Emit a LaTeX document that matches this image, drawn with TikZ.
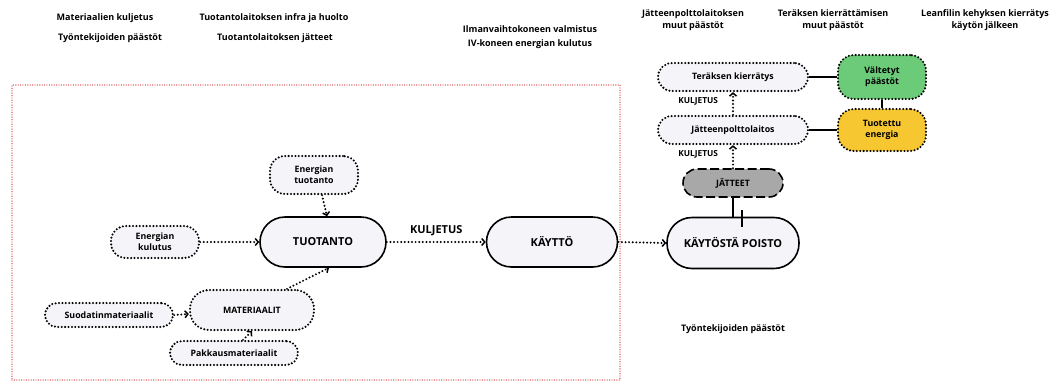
\documentclass[tikz,border=0pt]{standalone}
\usepackage{fontspec}
\setmainfont{Open Sans}
\usetikzlibrary{arrows.meta,calc}
\definecolor{nodefill}{HTML}{F5F4F9}
\definecolor{greenfill}{HTML}{6CCB78}
\definecolor{yellowfill}{HTML}{F6C730}
\definecolor{grayfill}{HTML}{A8A8A8}
\definecolor{redline}{HTML}{D9474A}
\tikzset{
  mainbox/.style={draw, line width=1.6pt, fill=nodefill, rounded corners=25pt,
    minimum width=128pt, minimum height=50pt, inner sep=0pt,
    font=\bfseries\fontsize{11}{12}\selectfont},
  dotbox/.style={draw, line width=2.3pt, dash pattern=on 0pt off 3.4pt, line cap=round,
    fill=nodefill, inner sep=0pt, align=center,
    font=\bfseries\fontsize{8.8}{11}\selectfont},
  conn/.style={line width=2.2pt, dash pattern=on 0pt off 3.6pt, line cap=round,
    -{Straight Barb[length=3pt,width=7pt,line width=1.5pt]}},
  solidconn/.style={line width=1.6pt},
  toplabel/.style={font=\bfseries\fontsize{9}{12.5}\selectfont, align=center, inner sep=0pt},
  lbl/.style={font=\bfseries\fontsize{8.3}{10}\selectfont, inner sep=0pt}
}
\begin{document}
\begin{tikzpicture}[x=1pt,y=-1pt]
\useasboundingbox (0,0) rectangle (1056,383);
% red frame
\node[draw=redline, line width=1.4pt, dash pattern=on 0pt off 2.4pt, line cap=round,
  minimum width=608pt, minimum height=295pt, inner sep=0pt] (frame) at (316,232.5) {};

% top labels
\node[toplabel] (t1) at (105,18) {Materiaalien kuljetus};
\node[toplabel] (t2) at (110,38) {Työntekijoiden päästöt};
\node[toplabel] (t3) at (274,18) {Tuotantolaitoksen infra ja huolto};
\node[toplabel] (t4) at (275,38) {Tuotantolaitoksen jätteet};
\node[toplabel] (t5) at (530,29) {Ilmanvaihtokoneen valmistus};
\node[toplabel] (t6) at (530,44) {IV-koneen energian kulutus};
\node[toplabel] (t7) at (693,20) {Jätteenpolttolaitoksen\\muut päästöt};
\node[toplabel] (t8) at (833,20) {Teräksen kierrättämisen\\muut päästöt};
\node[toplabel] (t9) at (985,20) {Leanfilin kehyksen kierrätys\\käytön jälkeen};
\node[toplabel] (t10) at (733,329) {Työntekijoiden päästöt};

% main nodes
\node[mainbox, minimum width=126pt] (tuot) at (323,242) {TUOTANTO};
\node[mainbox, minimum width=131pt] (kaytto) at (552,242) {KÄYTTÖ};
\node[mainbox, minimum width=132pt, minimum height=51pt] (poisto) at (733,243) {KÄYTÖSTÄ POISTO};

% dotted nodes
\node[dotbox, minimum width=88pt, minimum height=38pt, rounded corners=15pt] (entuot) at (314,175) {Energian\\tuotanto};
\node[dotbox, minimum width=88pt, minimum height=32pt, rounded corners=15pt] (enkul) at (155,242) {Energian\\kulutus};
\node[dotbox, minimum width=124pt, minimum height=40pt, rounded corners=19pt] (mat) at (252,310) {MATERIAALIT};
\node[dotbox, minimum width=128pt, minimum height=24pt, rounded corners=12pt] (suod) at (109,315) {Suodatinmateriaalit};
\node[dotbox, minimum width=128pt, minimum height=24pt, rounded corners=12pt] (pakk) at (234,353) {Pakkausmateriaalit};

% right side
\node[draw, line width=1.6pt, dash pattern=on 9pt off 3.5pt, fill=grayfill, rounded corners=14pt,
  minimum width=100pt, minimum height=28pt, inner sep=0pt,
  font=\bfseries\fontsize{8.8}{10}\selectfont] (jatteet) at (733,183) {JÄTTEET};
\node[dotbox, minimum width=150pt, minimum height=28pt, rounded corners=14pt] (jpl) at (733,130) {Jätteenpolttolaitos};
\node[dotbox, minimum width=150pt, minimum height=28pt, rounded corners=14pt] (terk) at (733,77) {Teräksen kierrätys};
\node[dotbox, fill=greenfill, minimum width=88pt, minimum height=44pt, rounded corners=16pt] (valt) at (882,77) {Vältetyt\\päästöt};
\node[dotbox, fill=yellowfill, minimum width=88pt, minimum height=42pt, rounded corners=16pt] (tuen) at (882,130) {Tuotettu\\energia};

% connectors
\draw[conn] (enkul.east) -- (tuot.west);
\draw[conn] ([xshift=8pt]entuot.south) -- ([xshift=4pt]tuot.north);
\draw[conn] ([xshift=35pt]mat.north) -- ([xshift=6pt]tuot.south);
\draw[conn] (suod.east) -- ([yshift=-4pt]mat.west);
\draw[conn] ([xshift=9pt]pakk.north) -- (mat.south);
\draw[conn] (tuot.east) -- node[lbl, font=\bfseries\fontsize{11}{12}\selectfont, above=5pt] (k1) {KULJETUS} (kaytto.west);
\draw[conn] (kaytto.east) -- (poisto.west);
\draw[conn] (jatteet.north) -- node[lbl, left=14pt, pos=0.6] (k2) {KULJETUS} (jpl.south);
\draw[conn] (jpl.north) -- node[lbl, left=14pt, pos=0.6] (k3) {KULJETUS} (terk.south);

\draw[solidconn] (jatteet.south) -- (poisto.north);
\coordinate (tickA) at ([xshift=9pt, yshift=-10pt]poisto.north);
\coordinate (tickB) at ([xshift=9pt, yshift=7pt]poisto.north);
\draw[solidconn] (tickA) -- (tickB);
\draw[solidconn] (terk.east) -- (valt.west);
\draw[solidconn] (jpl.east) -- (tuen.west);
\draw[solidconn] (valt.south) -- (tuen.north);
\end{tikzpicture}
\end{document}
